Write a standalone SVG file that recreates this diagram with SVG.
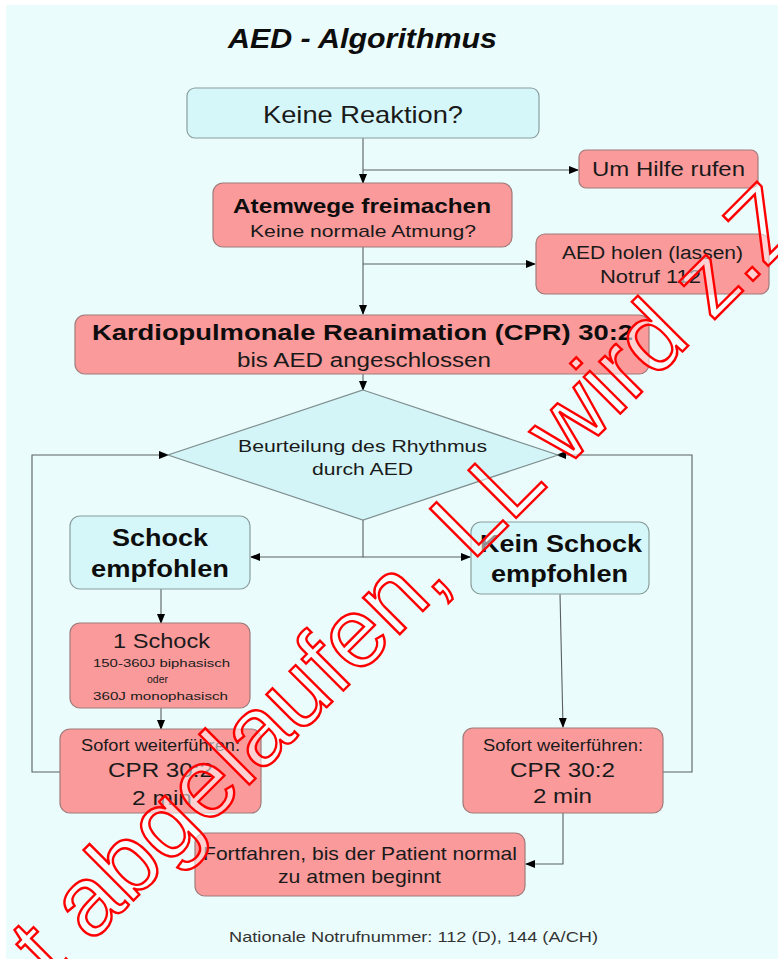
<svg xmlns="http://www.w3.org/2000/svg" width="778" height="959" viewBox="0 0 778 959">
<defs>
<style>
text{font-family:"Liberation Sans",Arial,sans-serif;fill:#1a1a1a}
.b{font-weight:bold;fill:#0d0d0d}
.pink{fill:#fa9a9a;stroke:#a07a7a;stroke-width:1.2}
.cyan{fill:#d6f7f9;stroke:#8a9e9e;stroke-width:1.2}
.con{fill:none;stroke:#5a5f60;stroke-width:1.1}
.wm{font-family:"Liberation Sans",Arial,sans-serif;font-size:98px;fill:#fff;fill-opacity:0.55;stroke:#ff0000;stroke-width:2.4}
</style>
<marker id="ah" markerWidth="10" markerHeight="8" refX="9" refY="4" orient="auto" markerUnits="userSpaceOnUse">
<path d="M0,0 L10,4 L0,8 Z" fill="#000"/>
</marker>
</defs>
<rect x="0" y="0" width="778" height="959" fill="#ffffff"/>
<rect x="6" y="5" width="772" height="954" fill="#ebfcfc"/>
<text id="title" class="b" x="228" y="48" font-size="28" font-style="italic" textLength="269" lengthAdjust="spacingAndGlyphs">AED - Algorithmus</text>

<g id="connectors">
<path class="con" d="M363,138 V183" marker-end="url(#ah)"/>
<path class="con" d="M363,170 H578" marker-end="url(#ah)"/>
<path class="con" d="M363,247 V314" marker-end="url(#ah)"/>
<path class="con" d="M363,264 H535" marker-end="url(#ah)"/>
<path class="con" d="M363,374 V390" marker-end="url(#ah)"/>
<path class="con" d="M363,520 V557 H251" marker-end="url(#ah)"/>
<path class="con" d="M363,557 H470" marker-end="url(#ah)"/>
<path class="con" d="M161,589 V623" marker-end="url(#ah)"/>
<path class="con" d="M161,708 V729" marker-end="url(#ah)"/>
<path class="con" d="M560,594 L563,727" marker-end="url(#ah)"/>
<path class="con" d="M60,772 H32 V455 H168" marker-end="url(#ah)"/>
<path class="con" d="M663,772 H692 V455 H557" marker-end="url(#ah)"/>
<path class="con" d="M563,813 V864 H526" marker-end="url(#ah)"/>
</g>

<g id="keine-reaktion">
<rect class="cyan" x="187" y="88" width="352" height="50" rx="8"/>
<text x="263" y="123" font-size="24" textLength="200" lengthAdjust="spacingAndGlyphs">Keine Reaktion?</text>
</g>
<g id="um-hilfe">
<rect class="pink" x="579" y="150" width="179" height="38" rx="7"/>
<text x="592" y="176" font-size="20" textLength="153" lengthAdjust="spacingAndGlyphs">Um Hilfe rufen</text>
</g>
<g id="atemwege">
<rect class="pink" x="213" y="183" width="299" height="64" rx="10"/>
<text class="b" x="233" y="213" font-size="21" textLength="258" lengthAdjust="spacingAndGlyphs">Atemwege freimachen</text>
<text x="250" y="237" font-size="17" textLength="226" lengthAdjust="spacingAndGlyphs">Keine normale Atmung?</text>
</g>
<g id="aed-holen">
<rect class="pink" x="536" y="234" width="233" height="60" rx="9"/>
<text x="562" y="259" font-size="18" textLength="181" lengthAdjust="spacingAndGlyphs">AED holen (lassen)</text>
<text x="600" y="283" font-size="18" textLength="101" lengthAdjust="spacingAndGlyphs">Notruf 112</text>
</g>
<g id="cpr">
<rect class="pink" x="75" y="315" width="574" height="59" rx="10"/>
<text class="b" x="92" y="340" font-size="22" textLength="541" lengthAdjust="spacingAndGlyphs">Kardiopulmonale Reanimation (CPR) 30:2</text>
<text x="237" y="367" font-size="20" textLength="254" lengthAdjust="spacingAndGlyphs">bis AED angeschlossen</text>
</g>
<g id="rhythmus">
<path d="M363,390 L558,455 L363,520 L168,455 Z" fill="#d4f5f7" stroke="#7f8f90" stroke-width="1.2"/>
<text x="238" y="452" font-size="17" textLength="249" lengthAdjust="spacingAndGlyphs">Beurteilung des Rhythmus</text>
<text x="312" y="475" font-size="17" textLength="101" lengthAdjust="spacingAndGlyphs">durch AED</text>
</g>
<g id="schock-empfohlen">
<rect class="cyan" x="70" y="516" width="180" height="73" rx="10"/>
<text class="b" x="112" y="546" font-size="23" textLength="96" lengthAdjust="spacingAndGlyphs">Schock</text>
<text class="b" x="91" y="577" font-size="23" textLength="138" lengthAdjust="spacingAndGlyphs">empfohlen</text>
</g>
<g id="kein-schock">
<rect class="cyan" x="471" y="522" width="178" height="72" rx="10"/>
<text class="b" x="480" y="552" font-size="23" textLength="162" lengthAdjust="spacingAndGlyphs">Kein Schock</text>
<text class="b" x="491" y="582" font-size="23" textLength="137" lengthAdjust="spacingAndGlyphs">empfohlen</text>
</g>
<g id="ein-schock">
<rect class="pink" x="70" y="623" width="180" height="85" rx="10"/>
<text x="113" y="648" font-size="20" textLength="97" lengthAdjust="spacingAndGlyphs">1 Schock</text>
<text x="93" y="667" font-size="11" textLength="137" lengthAdjust="spacingAndGlyphs">150-360J biphasisch</text>
<text x="147" y="683" font-size="11" textLength="21" lengthAdjust="spacingAndGlyphs">oder</text>
<text x="93" y="700" font-size="11" textLength="135" lengthAdjust="spacingAndGlyphs">360J monophasisch</text>
</g>
<g id="cpr-links">
<rect class="pink" x="60" y="729" width="201" height="84" rx="10"/>
<text x="81" y="751" font-size="16" textLength="159" lengthAdjust="spacingAndGlyphs">Sofort weiterführen:</text>
<text x="108" y="777" font-size="21" textLength="105" lengthAdjust="spacingAndGlyphs">CPR 30:2</text>
<text x="132" y="805" font-size="21" textLength="60" lengthAdjust="spacingAndGlyphs">2 min</text>
</g>
<g id="cpr-rechts">
<rect class="pink" x="463" y="728" width="200" height="85" rx="10"/>
<text x="483" y="751" font-size="16" textLength="160" lengthAdjust="spacingAndGlyphs">Sofort weiterführen:</text>
<text x="510" y="777" font-size="21" textLength="105" lengthAdjust="spacingAndGlyphs">CPR 30:2</text>
<text x="533" y="803" font-size="21" textLength="59" lengthAdjust="spacingAndGlyphs">2 min</text>
</g>
<g id="fortfahren">
<rect class="pink" x="195" y="833" width="330" height="63" rx="10"/>
<text x="203" y="860" font-size="19" textLength="314" lengthAdjust="spacingAndGlyphs">Fortfahren, bis der Patient normal</text>
<text x="278" y="883" font-size="19" textLength="163" lengthAdjust="spacingAndGlyphs">zu atmen beginnt</text>
</g>
<text id="footer" x="229" y="942" font-size="15" style="fill:#333" textLength="369" lengthAdjust="spacingAndGlyphs">Nationale Notrufnummer: 112 (D), 144 (A/CH)</text>

<text class="wm" x="52" y="982" transform="rotate(-45 52 982)">t abgelaufen, LL wird z.Z.</text>
</svg>
